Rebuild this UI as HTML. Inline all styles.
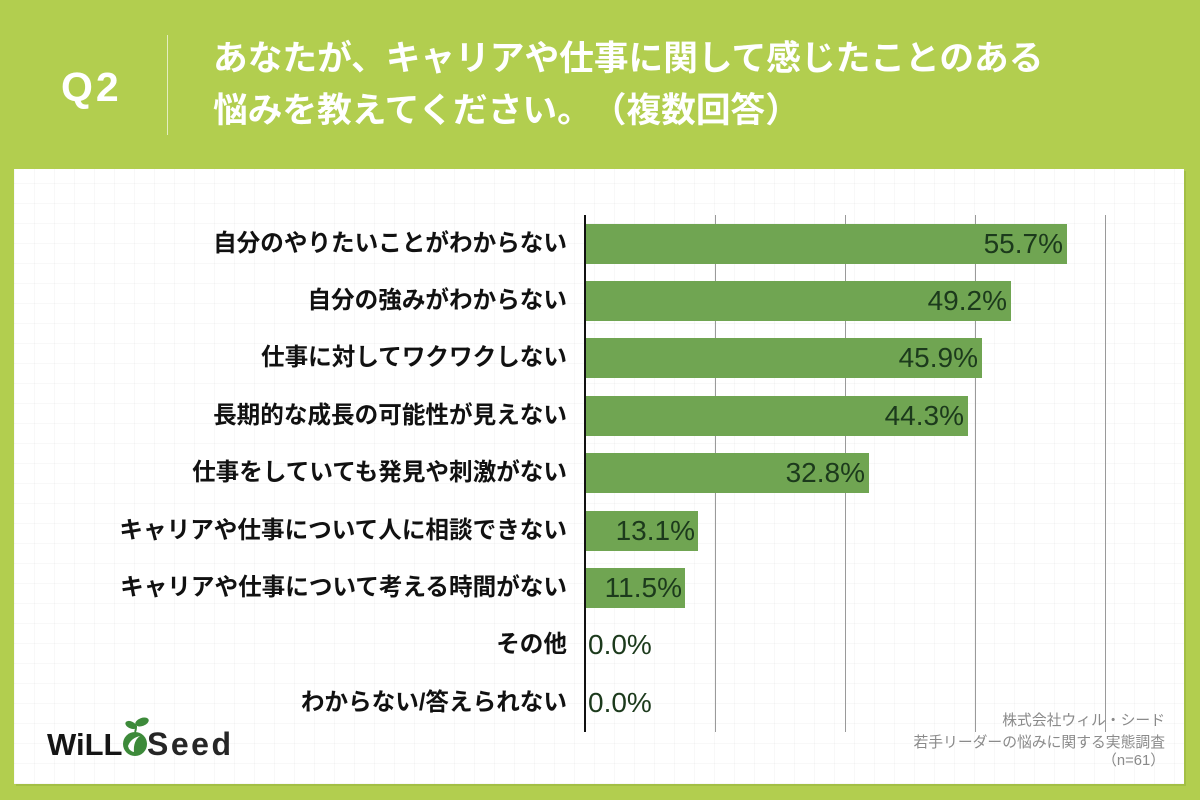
<!DOCTYPE html>
<html><head><meta charset="utf-8">
<style>
*{margin:0;padding:0;box-sizing:border-box}
html,body{width:1200px;height:800px;overflow:hidden;background:#b2ce4f}
body{position:relative;font-family:"Liberation Sans","Noto Sans CJK JP",sans-serif;text-spacing-trim:space-all}
.abs{position:absolute}
.q2{left:61px;top:62px;font-size:41px;font-weight:700;color:#fff;line-height:50px;letter-spacing:3px;font-family:"Liberation Sans",sans-serif}
.vline{left:167px;top:35px;width:1px;height:100px;background:#e4eec0}
.title{left:213px;color:#fff;font-size:34.7px;font-weight:700;line-height:40px;white-space:nowrap;font-family:"Liberation Sans","Noto Sans CJK JP",sans-serif;text-spacing-trim:space-all}
.panel{left:14px;top:169px;width:1170px;height:615px;background-color:#fff;
background-image:repeating-linear-gradient(0deg,rgba(0,0,0,0.028) 0 1px,transparent 1px 20px),repeating-linear-gradient(90deg,rgba(0,0,0,0.028) 0 1px,transparent 1px 20px);
box-shadow:2px 2px 0 rgba(60,80,0,0.12)}
.lab{right:633px;height:30px;line-height:30px;font-size:23.6px;font-weight:700;color:#111;white-space:nowrap;text-align:right;font-family:"Liberation Sans","Noto Sans CJK JP",sans-serif}
.bar{left:585px;height:40px;background:#70a552}
.val{height:40px;line-height:40px;font-size:28px;color:#1c3a1c;white-space:nowrap;font-family:"Liberation Sans",sans-serif}
.grid{top:215px;width:1px;height:517px;background:#9a9a9a}
.axis{left:584px;top:215px;width:2px;height:517px;background:#111}
.foot{right:35px;font-size:14.8px;color:#8a8a8a;line-height:20px;white-space:nowrap;text-align:right;font-family:"Liberation Sans","Noto Sans CJK JP",sans-serif}
</style></head><body>
<div class="abs q2">Q2</div>
<div class="abs vline"></div>
<div class="abs title" style="top:39px">あなたが、キャリアや仕事に関して感じたことのある</div>
<div class="abs title" style="top:91px">悩みを教えてください。（複数回答）</div>

<div class="abs panel"></div>

<div class="abs grid" style="left:715px"></div>
<div class="abs grid" style="left:845px"></div>
<div class="abs grid" style="left:975px"></div>
<div class="abs grid" style="left:1105px"></div>

<!-- bars -->
<div class="abs bar" style="top:224px;width:482px"></div>
<div class="abs bar" style="top:281px;width:426px"></div>
<div class="abs bar" style="top:338px;width:397px"></div>
<div class="abs bar" style="top:396px;width:383px"></div>
<div class="abs bar" style="top:453px;width:284px"></div>
<div class="abs bar" style="top:511px;width:113px"></div>
<div class="abs bar" style="top:568px;width:100px"></div>

<div class="abs axis"></div>

<!-- values -->
<div class="abs val" style="top:224px;right:137px">55.7%</div>
<div class="abs val" style="top:281px;right:193px">49.2%</div>
<div class="abs val" style="top:338px;right:222px">45.9%</div>
<div class="abs val" style="top:396px;right:236px">44.3%</div>
<div class="abs val" style="top:453px;right:335px">32.8%</div>
<div class="abs val" style="top:511px;right:505px">13.1%</div>
<div class="abs val" style="top:568px;right:518px">11.5%</div>
<div class="abs val" style="top:625px;left:588px">0.0%</div>
<div class="abs val" style="top:683px;left:588px">0.0%</div>

<!-- labels -->
<div class="abs lab" style="top:229px">自分のやりたいことがわからない</div>
<div class="abs lab" style="top:286px">自分の強みがわからない</div>
<div class="abs lab" style="top:343px">仕事に対してワクワクしない</div>
<div class="abs lab" style="top:401px">長期的な成長の可能性が見えない</div>
<div class="abs lab" style="top:458px">仕事をしていても発見や刺激がない</div>
<div class="abs lab" style="top:516px">キャリアや仕事について人に相談できない</div>
<div class="abs lab" style="top:573px">キャリアや仕事について考える時間がない</div>
<div class="abs lab" style="top:630px">その他</div>
<div class="abs lab" style="top:688px">わからない/答えられない</div>

<!-- footer -->
<div class="abs foot" style="top:711px">株式会社ウィル・シード</div>
<div class="abs foot" style="top:733px">若手リーダーの悩みに関する実態調査</div>
<div class="abs foot" style="top:751px">（n=61）</div>

<!-- logo -->
<div class="abs" style="left:47px;top:727px;font-size:31px;font-weight:700;color:#151515;line-height:36px;font-family:'Liberation Sans',sans-serif">WiLL</div>
<svg class="abs" style="left:122px;top:716px" width="28" height="44" viewBox="0 0 28 44">
<ellipse cx="9" cy="9" rx="6" ry="3.5" fill="#3d8a3a" transform="rotate(25 9 9)"/>
<ellipse cx="20" cy="6" rx="7" ry="4" fill="#3d8a3a" transform="rotate(-20 20 6)"/>
<path d="M14 10 Q14 14 13 16" stroke="#3d8a3a" stroke-width="2" fill="none"/>
<circle cx="13" cy="28" r="12" fill="#3d8a3a"/>
<path d="M6 30 Q9 22 18 20 Q11 25 12 36 Q7 35 6 30Z" fill="#fff"/>
</svg>
<div class="abs" style="left:147px;top:726px;font-size:32px;font-weight:700;color:#262626;line-height:36px;font-family:'Liberation Sans',sans-serif;letter-spacing:2.5px">Seed</div>
</body></html>
